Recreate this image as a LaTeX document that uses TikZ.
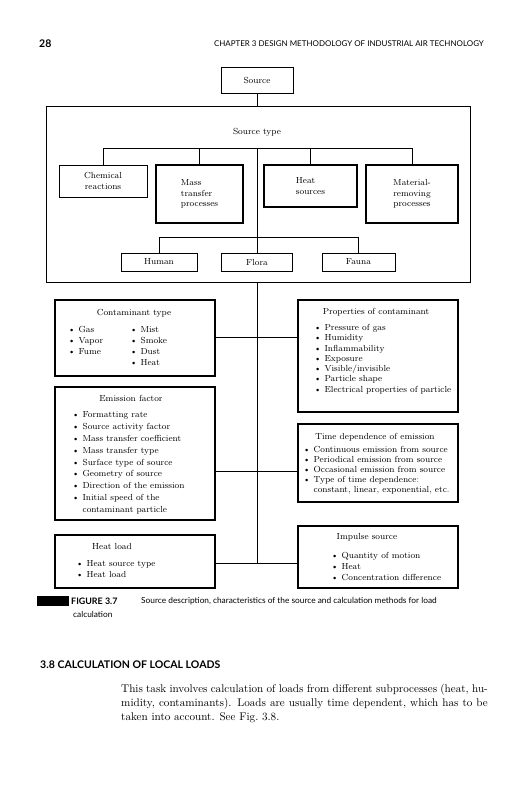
\documentclass[tikz,border=0pt]{standalone}
\usepackage{fontspec}
\setsansfont{Lato}
\usepackage{tikz}
\usetikzlibrary{positioning}

\newcommand{\bul}{\textbullet\ }
\newcommand{\bulgap}{\phantom{\textbullet}\ }

\begin{document}
\begin{tikzpicture}[
  x=0.03cm, y=-0.03cm,
  every node/.style={font=\fontsize{7.5}{9}\selectfont, inner sep=0pt},
  box/.style={draw, line width=0.7pt},
  heavybox/.style={draw, line width=1.1pt},
  link/.style={line width=0.7pt},
  list/.style={anchor=north west, align=left},
]

\useasboundingbox (0,0) rectangle (523,800);

%% ── Running head ─────────────────────────────────────────────────────────────
\node[font=\sffamily\bfseries\fontsize{9}{10}\selectfont, anchor=west] (pageno) at (39,44) {28};
\node[font=\sffamily\fontsize{6.8}{8}\selectfont, anchor=east] (runhead) at (484,44)
  {CHAPTER 3 DESIGN METHODOLOGY OF INDUSTRIAL AIR TECHNOLOGY};

%% ── Source ───────────────────────────────────────────────────────────────────
\node[box, minimum width=2.16cm, minimum height=0.78cm] (source) at (257,80) {Source};

%% ── Source type ──────────────────────────────────────────────────────────────
\node[box, minimum width=12.72cm, minimum height=5.28cm] (srctype) at (258,194) {};
\node (srctypelab) at (257,132) {Source type};

\node[box, align=center, minimum width=2.64cm, minimum height=0.96cm] (chem) at (103,181) {Chemical\\reactions};
\node[heavybox, align=left, minimum width=2.61cm, minimum height=1.74cm] (mass) at (199.5,194) {Mass\\transfer\\processes};
\node[heavybox, align=left, minimum width=2.79cm, minimum height=1.26cm] (heat) at (310.5,186) {Heat\\sources};
\node[heavybox, align=center, minimum width=2.76cm, minimum height=1.74cm] (material) at (412,194) {Material-\\removing\\processes};

\node[box, minimum width=2.28cm, minimum height=0.54cm] (human) at (159,262) {Human};
\node[box, minimum width=2.13cm, minimum height=0.54cm] (flora) at (257,262) {Flora};
\node[box, minimum width=2.19cm, minimum height=0.54cm] (fauna) at (358.5,262) {Fauna};

\coordinate (typejoint) at (257,148);
\coordinate (lifejoint) at (257,237);

\draw[link] (source) -- (source |- srctype.north);
\draw[link] (chem.north) -- (chem.north |- typejoint) -- (material.north |- typejoint) -- (material.north);
\foreach \n in {mass,heat}
  \draw[link] (\n.north) -- (\n.north |- typejoint);
\draw[link] (typejoint) -- (flora.north);
\draw[link] (human.north) -- (human.north |- lifejoint) -- (fauna.north |- lifejoint) -- (fauna.north);

%% ── Left column: contaminant, emission, heat load ────────────────────────────
\node[heavybox, minimum width=4.8cm, minimum height=2.28cm] (cont) at (135,338) {};
\node (conthead) at (134,313) {Contaminant type};
\node[list, font=\fontsize{7.5}{9.6}\selectfont] (contlista) at (68,326) {\bul Gas\\\bul Vapor\\\bul Fume};
\node[list, font=\fontsize{7.5}{9.6}\selectfont] (contlistb) at (130,326) {\bul Mist\\\bul Smoke\\\bul Dust\\\bul Heat};

\node[heavybox, minimum width=4.8cm, minimum height=3.99cm] (emis) at (135,453.5) {};
\node (emishead) at (131,398) {Emission factor};
\node[list, font=\fontsize{7.5}{10.2}\selectfont] (emislist) at (72,411)
  {\bul Formatting rate\\\bul Source activity factor\\\bul Mass transfer coefficient\\
   \bul Mass transfer type\\\bul Surface type of source\\\bul Geometry of source\\
   \bul Direction of the emission\\\bul Initial speed of the\\\bulgap contaminant particle};

\node[heavybox, minimum width=4.8cm, minimum height=1.59cm] (heatld) at (135,561.5) {};
\node (heatldhead) at (112,546) {Heat load};
\node[list, font=\fontsize{7.5}{9.8}\selectfont] (heatldlist) at (76,560) {\bul Heat source type\\\bul Heat load};

%% ── Right column: properties, time dependence, impulse ───────────────────────
\node[heavybox, minimum width=4.8cm, minimum height=3.36cm] (prop) at (378,356) {};
\node (prophead) at (376,312) {Properties of contaminant};
\node[list, font=\fontsize{7.5}{8.8}\selectfont] (proplist) at (314,324)
  {\bul Pressure of gas\\\bul Humidity\\\bul Inflammability\\\bul Exposure\\
   \bul Visible/invisible\\\bul Particle shape\\\bul Electrical properties of particle};

\node[heavybox, minimum width=4.8cm, minimum height=2.34cm] (time) at (378,463) {};
\node (timehead) at (375,437) {Time dependence of emission};
\node[list, font=\fontsize{7.5}{8.6}\selectfont] (timelist) at (303,446)
  {\bul Continuous emission from source\\\bul Periodical emission from source\\
   \bul Occasional emission from source\\\bul Type of time dependence:\\
   \bulgap constant, linear, exponential, etc.};

\node[heavybox, minimum width=4.8cm, minimum height=1.86cm] (impulse) at (378,557) {};
\node (impulsehead) at (367,537) {Impulse source};
\node[list, font=\fontsize{7.5}{9.4}\selectfont] (impulselist) at (331,552)
  {\bul Quantity of motion\\\bul Heat\\\bul Concentration difference};

% spine and branches
\coordinate (contjoint) at (257,337);
\coordinate (emisjoint) at (257,471);
\coordinate (heatjoint) at (257,563);
\draw[link] (flora |- srctype.south) -- (heatjoint);
\draw[link] (contjoint -| cont.east) -- (contjoint -| prop.west);
\draw[link] (emisjoint -| emis.east) -- (emisjoint -| time.west);
\draw[link] (heatjoint -| heatld.east) -- (heatjoint -| impulse.west);

%% ── Caption ──────────────────────────────────────────────────────────────────
\fill (37,596) rectangle (69,606);
\node[anchor=west, font=\sffamily\bfseries\fontsize{7.6}{8}\selectfont] (figlab) at (71,601) {FIGURE 3.7};
\node[anchor=west, font=\sffamily\fontsize{7.1}{8}\selectfont] (figcap) at (141,601)
  {Source description, characteristics of the source and calculation methods for load};
\node[anchor=west, font=\sffamily\fontsize{7.1}{8}\selectfont] (figcap2) at (73,614) {calculation};

%% ── Section 3.8 ──────────────────────────────────────────────────────────────
\node[anchor=west, font=\sffamily\bfseries\fontsize{9}{10}\selectfont] (sechead) at (40,665)
  {3.8 CALCULATION OF LOCAL LOADS};
\node[anchor=north west, text width=11.0cm, align=justify, font=\fontsize{9.5}{11.9}\selectfont] (para) at (121,684)
  {This task involves calculation of loads from different subprocesses (heat, hu-\linebreak
   midity, contaminants). Loads are usually time dependent, which has to be\linebreak
   taken into account. See Fig.~3.8.};

\end{tikzpicture}
\end{document}
